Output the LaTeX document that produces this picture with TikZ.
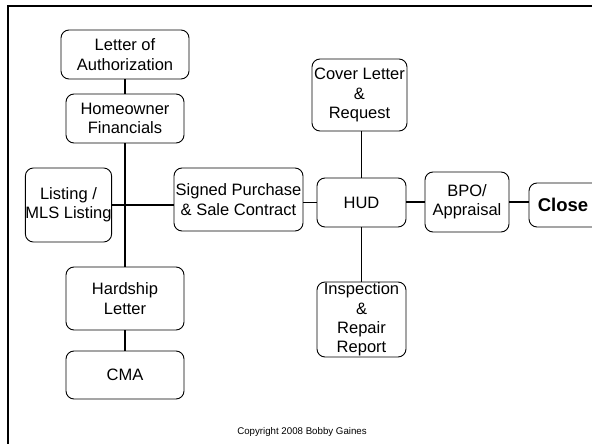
\documentclass[tikz,border=0pt]{standalone}
\usepackage{fontspec}
\setmainfont{Liberation Sans}
\begin{document}
\begin{tikzpicture}[x=1pt,y=-1pt,
  box/.style={draw=black, line width=0.9pt, rounded corners=8pt, align=center,
    inner sep=0pt, font=\fontsize{16.5}{19.4}\selectfont},
  link/.style={draw=black, line width=1.5pt},
  boldlink/.style={draw=black, line width=2.3pt},
  frame/.style={draw=black, line width=2.3pt}]
  \useasboundingbox (0,0) rectangle (592,444);
  \begin{scope}
  \clip (0,0) rectangle (592,444);
  % page frame (left and top edges)
  \draw[frame] (8,446) -- (8,6) -- (594,6);

  % left-hand column of documents
  \node[box, minimum width=128pt, minimum height=49pt] (loa) at (125,54.5) {Letter of\\Authorization};
  \node[box, minimum width=118pt, minimum height=49pt] (hf) at (125,118.5) {Homeowner\\Financials};
  \node[box, minimum width=83pt, minimum height=74pt] (mls) at (68.5,205) {Listing /\\MLS Listing};
  \node[box, minimum width=118pt, minimum height=63pt] (hard) at (125,298.5) {Hardship\\Letter};
  \node[box, minimum width=118pt, minimum height=48pt] (cma) at (125,375) {CMA};

  % main flow
  \node[box, minimum width=129pt, minimum height=63pt] (spc) at (238.5,199.5) {Signed Purchase\\\& Sale Contract};
  \node[box, minimum width=89pt, minimum height=49pt] (hud) at (361.5,202.5) {HUD};
  \node[box, minimum width=95pt, minimum height=72pt] (cov) at (359.5,95) {Cover Letter\\\&\\Request};
  \node[box, minimum width=89pt, minimum height=75pt] (insp) at (361.5,319.5) {Inspection\\\&\\Repair\\Report};
  \node[box, minimum width=84pt, minimum height=60pt] (bpo) at (467,202) {BPO/\\Appraisal};
  \node[box, minimum width=71pt, minimum height=44pt, font=\fontsize{18.5}{21}\selectfont\bfseries] (close) at (564.5,205) {\hspace*{-3pt}Close};

  % connectors
  \draw[link] (loa.south) -- (hf.north);
  \draw[link] (hf.south) -- (hard.north);
  \draw[link] (hard.south) -- (cma.north);
  \draw[link] (mls.east) -- (mls.east -| spc.west);
  \draw[link] (hud.west -| spc.east) -- (hud.west);
  \draw[link] (hud.north) -- (hud.north |- cov.south);
  \draw[link] (hud.south) -- (insp.north);
  \draw[boldlink] (bpo.west -| hud.east) -- (bpo.west);
  \draw[link] (bpo.east) -- (bpo.east -| close.west);
  \end{scope}

  \node[font=\fontsize{9.7}{11}\selectfont, inner sep=0pt] (copy) at (302,432) {Copyright 2008 Bobby Gaines};
\end{tikzpicture}
\end{document}
